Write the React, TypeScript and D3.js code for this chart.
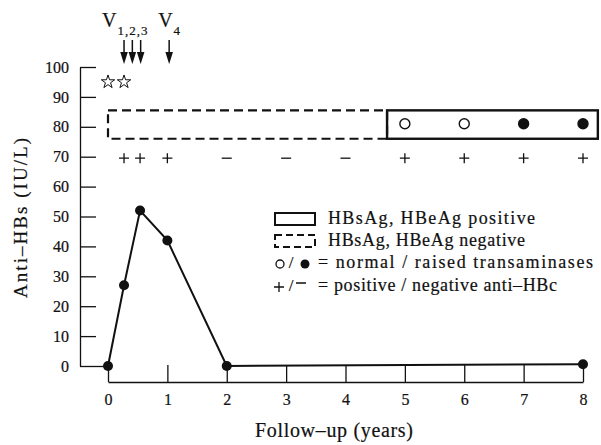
import React, { useRef, useEffect } from 'react';
import * as d3 from 'd3';

// anti-HBs titre over follow-up
const followUp = [0, 0.27, 0.54, 1, 2, 8];
const antiHBs = [0, 27, 52, 42, 0, 0.6];

const xTicks = [0, 1, 2, 3, 4, 5, 6, 7, 8];
const yTicks = [0, 10, 20, 30, 40, 50, 60, 70, 80, 90, 100];

// vaccinations
const vaccYears = [0.27, 0.41, 0.55, 1.03];
const vaccLabels = ['1,2,3', '4'];

// stars
const starYears = [0, 0.27];
const starLevel = 95;

// anti-HBc status row
const hbcYears = [0.27, 0.54, 1, 2, 3, 4, 5, 6, 7, 8];
const hbcSigns = ['+', '+', '+', '-', '-', '-', '+', '+', '+', '+'];
const hbcLevel = 69.5;

// transaminases
const transYears = [5, 6, 7, 8];
const transRaised = [false, false, true, true];
const transLevel = 81;

// HBsAg / HBeAg boxes
const negativeSpan = [0, 4.7];
const positiveSpan = [4.7, 8.25];
const boxLevels = [76, 85.5];

const legendItems = [
    'HBsAg, HBeAg positive',
    'HBsAg, HBeAg negative',
    '= normal / raised transaminases',
    '= positive / negative anti\u2013HBc',
];

const FONT = '"Times New Roman", "Liberation Serif", Times, "DejaVu Serif", serif';
const INK = '#111';

const AntiHBsChart = () => {
    const svgRef = useRef<SVGSVGElement>(null);

    useEffect(() => {
        const svg = d3.select(svgRef.current);
        svg.selectAll('*').remove();

        const x = d3.scaleLinear().domain([0, 8]).range([108, 583]);
        const y = d3.scaleLinear().domain([0, 100]).range([366, 67]);

        // scanned print looks a bit heavier than the plain font
        const ink = sel => sel
            .style('font-family', FONT)
            .attr('fill', INK)
            .attr('stroke', INK)
            .attr('stroke-width', 0.2);

        // Y axis, ticks pointing inward
        const yAxis = svg.append('g')
            .attr('transform', 'translate(80,0)')
            .call(d3.axisLeft(y).tickValues(yTicks).tickSize(-16).tickSizeOuter(0).tickPadding(11));
        yAxis.attr('font-family', null).attr('font-size', null);
        yAxis.selectAll('path, line').attr('stroke', INK).attr('stroke-width', 1.3);
        yAxis.selectAll('text').call(ink).style('font-size', '16px');
        // zero tick runs to the first point
        yAxis.select('.tick line').attr('x2', x(0) - 80);

        // X axis, ticks pointing up
        const xAxis = svg.append('g')
            .attr('transform', 'translate(0,382)')
            .call(d3.axisBottom(x).tickValues(xTicks).tickSize(-17).tickSizeOuter(0).tickPadding(12));
        xAxis.attr('font-family', null).attr('font-size', null);
        xAxis.selectAll('path, line').attr('stroke', INK).attr('stroke-width', 1.3);
        xAxis.selectAll('text').call(ink).style('font-size', '16px');

        // Axis labels
        svg.append('text')
            .attr('transform', `translate(27,${218}) rotate(-90)`)
            .attr('text-anchor', 'middle')
            .call(ink)
            .style('font-size', '19px')
            .attr('textLength', 160)
            .attr('lengthAdjust', 'spacing')
            .text('Anti\u2013HBs (IU/L)');

        svg.append('text')
            .attr('x', 334)
            .attr('y', 437)
            .attr('text-anchor', 'middle')
            .call(ink)
            .style('font-size', '20px')
            .attr('textLength', 158)
            .attr('lengthAdjust', 'spacing')
            .text('Follow\u2013up (years)');

        // Boxes
        svg.append('rect')
            .attr('x', x(negativeSpan[0]))
            .attr('y', y(boxLevels[1]))
            .attr('width', x(negativeSpan[1]) - x(negativeSpan[0]))
            .attr('height', y(boxLevels[0]) - y(boxLevels[1]))
            .attr('fill', 'none')
            .attr('stroke', INK)
            .attr('stroke-width', 2.2)
            .attr('stroke-dasharray', '9,5');

        svg.append('rect')
            .attr('x', x(positiveSpan[0]))
            .attr('y', y(boxLevels[1]))
            .attr('width', x(positiveSpan[1]) - x(positiveSpan[0]))
            .attr('height', y(boxLevels[0]) - y(boxLevels[1]))
            .attr('fill', 'none')
            .attr('stroke', INK)
            .attr('stroke-width', 2.4);

        // Transaminase markers
        svg.selectAll('.trans')
            .data(transYears)
            .enter().append('circle')
            .attr('cx', d => x(d))
            .attr('cy', y(transLevel))
            .attr('r', 5)
            .attr('fill', (d, i) => transRaised[i] ? INK : '#fff')
            .attr('stroke', INK)
            .attr('stroke-width', 1.4);

        // anti-HBc signs, drawn as strokes
        svg.selectAll('.hbc')
            .data(hbcYears)
            .enter().append('path')
            .attr('d', (d, i) => {
                const cx = x(d), cy = y(hbcLevel);
                const h = `M${cx - 5},${cy}H${cx + 5}`;
                return hbcSigns[i] === '+' ? `${h}M${cx},${cy - 5}V${cy + 5}` : h;
            })
            .attr('stroke', INK)
            .attr('stroke-width', 1.3)
            .attr('fill', 'none');

        // Stars
        const star = d3.symbol().type(d3.symbolStar).size(55);
        svg.selectAll('.star')
            .data(starYears)
            .enter().append('path')
            .attr('transform', d => `translate(${x(d)},${y(starLevel)})`)
            .attr('d', star)
            .attr('fill', '#fff')
            .attr('stroke', INK)
            .attr('stroke-width', 1);

        // Vaccination arrows
        vaccYears.forEach(v => {
            const cx = x(v);
            svg.append('line')
                .attr('x1', cx).attr('x2', cx)
                .attr('y1', 40).attr('y2', 54)
                .attr('stroke', INK)
                .attr('stroke-width', 1.5);
            svg.append('path')
                .attr('d', `M${cx - 3.8},52L${cx + 3.8},52L${cx},64Z`)
                .attr('fill', INK);
        });

        const vLabel = (vx, sub, subLen) => {
            const t = svg.append('text')
                .attr('x', vx)
                .attr('y', 27)
                .call(ink)
                .style('font-size', '20px');
            t.append('tspan').text('V');
            t.append('tspan')
                .style('font-size', '13px')
                .attr('dy', 8)
                .attr('dx', 1)
                .attr('textLength', subLen)
                .text(sub);
        };
        vLabel(x(vaccYears[0]) - 22, vaccLabels[0], 30);
        vLabel(x(vaccYears[3]) - 11, vaccLabels[1], 7);

        // Data line
        const line = d3.line<number>()
            .x((d, i) => x(followUp[i]))
            .y(d => y(d));

        svg.append('path')
            .datum(antiHBs)
            .attr('d', line)
            .attr('fill', 'none')
            .attr('stroke', INK)
            .attr('stroke-width', 2);

        svg.selectAll('.dot')
            .data(antiHBs)
            .enter().append('circle')
            .attr('cx', (d, i) => x(followUp[i]))
            .attr('cy', d => y(d))
            .attr('r', 5)
            .attr('fill', INK);

        // Legend
        const lg = svg.append('g');
        const rowY = [219, 241, 263, 286];
        const textX = 328;
        const textLens = [207, 197, 275, 239];

        lg.append('rect')
            .attr('x', 275).attr('y', rowY[0] - 6)
            .attr('width', 40).attr('height', 12)
            .attr('fill', 'none')
            .attr('stroke', INK)
            .attr('stroke-width', 2);
        lg.append('rect')
            .attr('x', 275).attr('y', rowY[1] - 6)
            .attr('width', 40).attr('height', 12)
            .attr('fill', 'none')
            .attr('stroke', INK)
            .attr('stroke-width', 2)
            .attr('stroke-dasharray', '7,4');

        lg.append('circle').attr('cx', 280).attr('cy', rowY[2] + 1).attr('r', 4)
            .attr('fill', '#fff').attr('stroke', INK).attr('stroke-width', 1.3);
        lg.append('text').attr('x', 291).attr('y', rowY[2] + 5).attr('text-anchor', 'middle')
            .call(ink).style('font-size', '17px').text('/');
        lg.append('circle').attr('cx', 305).attr('cy', rowY[2] + 1).attr('r', 4.5).attr('fill', INK);

        lg.append('path')
            .attr('d', `M274,${rowY[3] + 1}H284M279,${rowY[3] - 4}V${rowY[3] + 6}M296,${rowY[3] - 3}H306`)
            .attr('stroke', INK).attr('stroke-width', 1.3);
        lg.append('text').attr('x', 291).attr('y', rowY[3] + 5).attr('text-anchor', 'middle')
            .call(ink).style('font-size', '17px').text('/');

        legendItems.forEach((label, i) => {
            const sx = i < 2 ? textX : 318;
            lg.append('text')
                .attr('x', sx)
                .attr('y', rowY[i] + 5)
                .call(ink)
                .style('font-size', '18px')
                .attr('textLength', textLens[i])
                .attr('lengthAdjust', 'spacing')
                .text(label);
        });
    }, []);

    return (
        <svg
            ref={svgRef}
            width={601}
            height={445}
            style={{ position: 'absolute', left: 0, top: 0, background: '#fff' }}
        />
    );
};

export default function App() {
    return <AntiHBsChart />;
}
